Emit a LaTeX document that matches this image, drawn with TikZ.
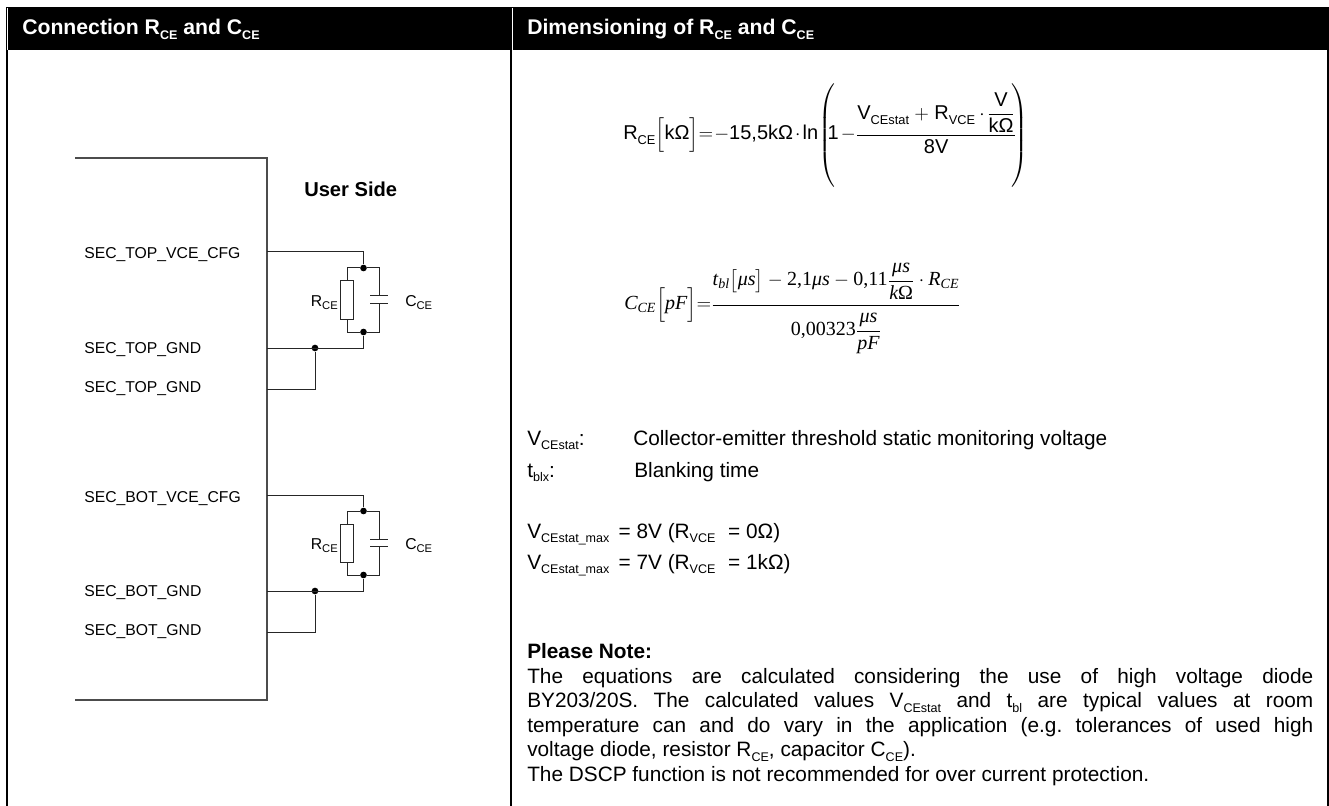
\documentclass[tikz,border=0pt]{standalone}
\usepackage{amsmath}
\usepackage{fontspec}
\setmainfont{Liberation Sans}
\newfontfamily\timesfont{Liberation Serif}
\usetikzlibrary{positioning}
\newcommand{\lowt}[1]{\raisebox{-.22em}{\fontsize{9.4}{9}\selectfont #1}}
\newcommand{\lowp}[1]{\raisebox{-.25em}{\fontsize{8.4}{9}\selectfont #1}}
\newcommand{\lowm}[1]{\raisebox{-3.6pt}{\fontsize{9.6}{9}\selectfont #1}}
\newcommand{\mt}[1]{\text{#1}}
\newcommand{\mi}[1]{\text{\timesfont\itshape #1}}
\newcommand{\mr}[1]{\text{\timesfont #1}}
\tikzset{
  wire/.style={line width=.75pt,black!85},
  casing/.style={line width=.9pt,black!70},
  rule/.style={line width=1.5pt,black},
  dot/.style={circle,fill=black,inner sep=0pt,minimum size=5pt},
  resbox/.style={draw,line width=.75pt,black!85,fill=white,inner sep=0pt,minimum width=9.6pt,minimum height=28.5pt},
  title/.style={anchor=base west,inner sep=0pt,text=white,font=\fontsize{15.9}{18}\selectfont\bfseries},
  pinlabel/.style={anchor=base west,inner sep=0pt,font=\fontsize{11.8}{14}\selectfont},
  txt/.style={anchor=base west,inner sep=0pt,font=\fontsize{15.6}{18}\selectfont},
  eqn/.style={anchor=base west,inner sep=0pt,font=\fontsize{15}{18}\selectfont}
}
\begin{document}
\begin{tikzpicture}[x=.75pt,y=-.75pt]
  \useasboundingbox (0,0) rectangle (1329,806);
  \fill[black] (6,7) rectangle (1329,50.5);
  \draw[white,line width=.5pt] (7.3,8) -- (7.3,50) (512.5,8) -- (512.5,50);
  \draw[rule] (6.5,50) -- (6.5,806) (511,50) -- (511,806) (1328,50) -- (1328,806);
  \node[title] (titleleft) at (22,35) {Connection R\lowt{CE} and C\lowt{CE}};
  \node[title] (titleright) at (527,35) {Dimensioning of R\lowt{CE} and C\lowt{CE}};

  \coordinate (boxtop) at (75,158);
  \coordinate (boxbot) at (75,700);
  \coordinate (boxedge) at (267,400);
  \draw[casing] (boxtop) -| (boxedge) |- (boxbot);
  \node[anchor=base west,inner sep=0pt,font=\fontsize{15.1}{18}\selectfont\bfseries] (userside) at (304,197) {User Side};

  \foreach \blk/\dy in {TOP/0,BOT/243} {
    \coordinate (vce\blk) at (267,252+\dy);
    \coordinate (gnda\blk) at (267,348+\dy);
    \coordinate (gndb\blk) at (267,389+\dy);
    \coordinate (capt\blk) at (379,296+\dy);
    \coordinate (capb\blk) at (379,303+\dy);
    \node[dot] (jt\blk) at (363.5,268+\dy) {};
    \node[dot] (jb\blk) at (363.5,332+\dy) {};
    \node[dot] (js\blk) at (315,348+\dy) {};
    \node[resbox] (res\blk) at (347,300+\dy) {};
    \draw[wire] (vce\blk) -| (jt\blk);
    \draw[wire] (jt\blk) -| (res\blk.north);
    \draw[wire] (jt\blk) -| (capt\blk);
    \draw[wire] (jb\blk) -| (res\blk.south);
    \draw[wire] (jb\blk) -| (capb\blk);
    \draw[wire] (gnda\blk) -| (jb\blk);
    \draw[wire] (gndb\blk) -| (js\blk);
    \draw[wire] ([xshift=-6.4pt]capt\blk) -- ([xshift=6.4pt]capt\blk);
    \draw[wire] ([xshift=-6.4pt]capb\blk) -- ([xshift=6.4pt]capb\blk);
    \node[pinlabel] (pina\blk) at (84,259+\dy) {SEC\_\blk\_VCE\_CFG};
    \node[pinlabel] (pinb\blk) at (84,353+\dy) {SEC\_\blk\_GND};
    \node[pinlabel] (pinc\blk) at (84,392+\dy) {SEC\_\blk\_GND};
    \node[pinlabel,anchor=base east] (rlab\blk) at (338,306+\dy) {R\lowp{CE}};
    \node[pinlabel] (clab\blk) at (405,306+\dy) {C\lowp{CE}};
  }

  \node[eqn] (eqr) at (623,140) {\medmuskip=2mu\thickmuskip=1mu$\mt{R\lowm{CE}}\Bigl[\mt{kΩ}\Bigr]{=}\mkern1mu{-}\mt{15,5kΩ}\cdot\mt{ln}\mkern-3mu\left(\vphantom{\rule{0pt}{42pt}}\mkern-7mu\mt{1}-\mkern-2mu\dfrac{\mt{V\lowm{CEstat}}\mkern3mu+\mkern3mu\mt{R\lowm{VCE}}\mkern2mu\cdot\dfrac{\mt{V}}{\mt{kΩ}}}{\mt{8V}}\mkern-5mu\right)$};
  \node[eqn] (eqc) at (624,310) {$\mi{C}_{\mi{CE}}\Bigl[\mi{pF}\Bigr]{=}\dfrac{\mi{t}_{\mi{bl}}\bigl[\mi{μs}\bigr]-\mr{2,1}\mi{μs}-\mr{0,11}\dfrac{\mi{μs}}{\mi{k}\mr{Ω}}\cdot\mi{R}_{\mi{CE}}\rule[-12.5pt]{0pt}{0pt}}{\mr{0,00323}\dfrac{\mi{μs}}{\mi{pF}}\rule{0pt}{21pt}}$};

  \node[txt] (symv) at (527,445) {V\lowt{CEstat}:};
  \node[txt] (descv) at (633,445) {Collector-emitter threshold static monitoring voltage};
  \node[txt] (symt) at (527,477) {t\lowt{blx}:};
  \node[txt] (desct) at (634,477) {Blanking time};
  \node[txt] (maxa) at (527,538) {V\lowt{CEstat\_max} \,= 8V (R\lowt{VCE}\,\, = 0Ω)};
  \node[txt] (maxb) at (527,569) {V\lowt{CEstat\_max} \,= 7V (R\lowt{VCE}\,\, = 1kΩ)};

  \node[txt,font=\fontsize{15.6}{18}\selectfont\bfseries] (notehead) at (527,658) {Please Note:};
  \node[anchor=north west,inner sep=0pt,text width=589.5pt,align=justify,font=\fontsize{15.6}{18.4}\selectfont\frenchspacing] (notebody) at (527,668) {The equations are calculated considering the use of high voltage diode\linebreak
  BY203/20S. The calculated values V\lowt{CEstat} and t\lowt{bl} are typical values at room\linebreak
  temperature can and do vary in the application (e.g. tolerances of used high\linebreak
  voltage diode, resistor R\lowt{CE}, capacitor C\lowt{CE}).\\
  The DSCP function is not recommended for over current protection.};
\end{tikzpicture}
\end{document}
